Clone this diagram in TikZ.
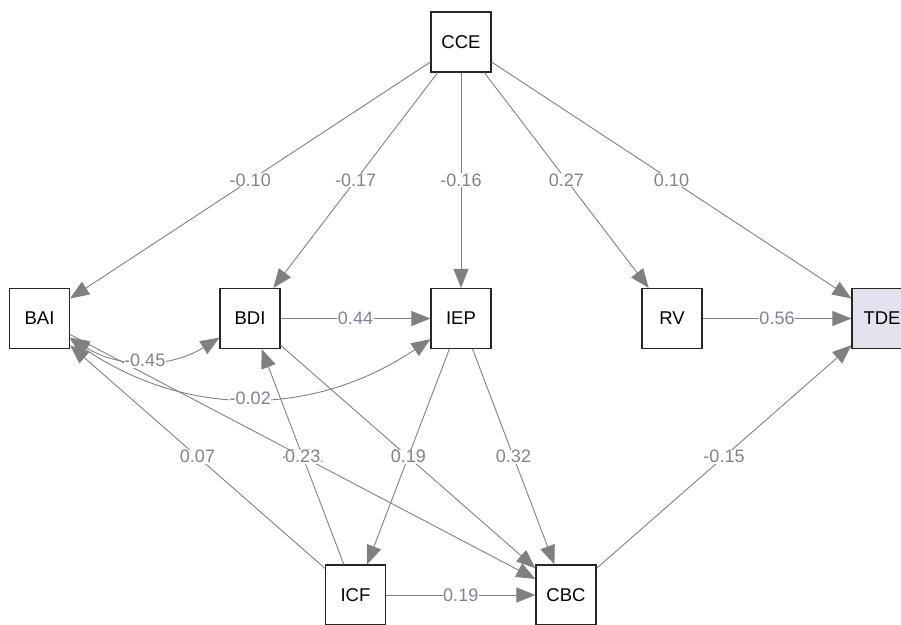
\documentclass[tikz,border=0pt]{standalone}
\usepackage{fontspec}
\setmainfont{Liberation Sans}
\usetikzlibrary{arrows.meta}
\definecolor{edgegray}{RGB}{128,128,128}
\definecolor{labgray}{RGB}{130,130,142}
\definecolor{tdefill}{RGB}{227,227,238}
\begin{document}
\begin{tikzpicture}[x=1pt,y=1pt,
  var/.style={draw=black!85, line width=1.2pt, minimum size=60pt, inner sep=0pt,
    font=\fontsize{18.5}{22}\selectfont, fill=white},
  conn/.style={draw=edgegray, line width=0.9pt, -{Triangle[length=19pt,width=15pt]}},
  cov/.style={draw=edgegray, line width=0.9pt,
    {Triangle[length=19pt,width=15pt]}-{Triangle[length=19pt,width=15pt]}},
  lab/.style={fill=white, text=labgray, inner sep=0.6pt, font=\fontsize{18}{20}\selectfont}
]
\useasboundingbox (0,0) rectangle (901,-624);
\node[var] (CCE) at (461,-42) {CCE};
\node[var] (BAI) at (39.5,-318.5) {BAI};
\node[var] (BDI) at (250,-318.5) {BDI};
\node[var] (IEP) at (461,-318.5) {IEP};
\node[var] (RV)  at (672,-318.5) {RV};
\node[var, fill=tdefill] (TDE) at (882,-318.5) {TDE};
\node[var] (ICF) at (355.5,-595) {ICF};
\node[var] (CBC) at (566,-595) {CBC};

\draw[conn] (CCE) -- node[lab]{-0.10} (BAI);
\draw[conn] (CCE) -- node[lab]{-0.17} (BDI);
\draw[conn] (CCE) -- node[lab]{-0.16} (IEP);
\draw[conn] (CCE) -- node[lab]{0.27} (RV);
\draw[conn] (CCE) -- node[lab]{0.10} (TDE);
\draw[conn] (BDI) -- node[lab]{0.44} (IEP);
\draw[conn] (RV) -- node[lab]{0.56} (TDE);
\draw[conn] (ICF) -- node[lab]{0.07} (BAI);
\draw[conn] (ICF) -- node[lab]{-0.21} (BDI);
\draw[conn] (BAI) -- node[lab]{0.23} (CBC);
\draw[conn] (BDI) -- node[lab]{0.18} (CBC);
\draw[conn] (IEP) -- node[lab]{0.19} (ICF);
\draw[conn] (IEP) -- node[lab]{0.32} (CBC);
\draw[conn] (CBC) -- node[lab]{-0.15} (TDE);
\draw[conn] (ICF) -- node[lab]{0.19} (CBC);
\draw[cov] (BAI) to[bend right=32] node[lab]{-0.45} (BDI);
\draw[cov] (BAI) to[bend right=34] node[lab]{-0.02} (IEP);
\end{tikzpicture}
\end{document}
